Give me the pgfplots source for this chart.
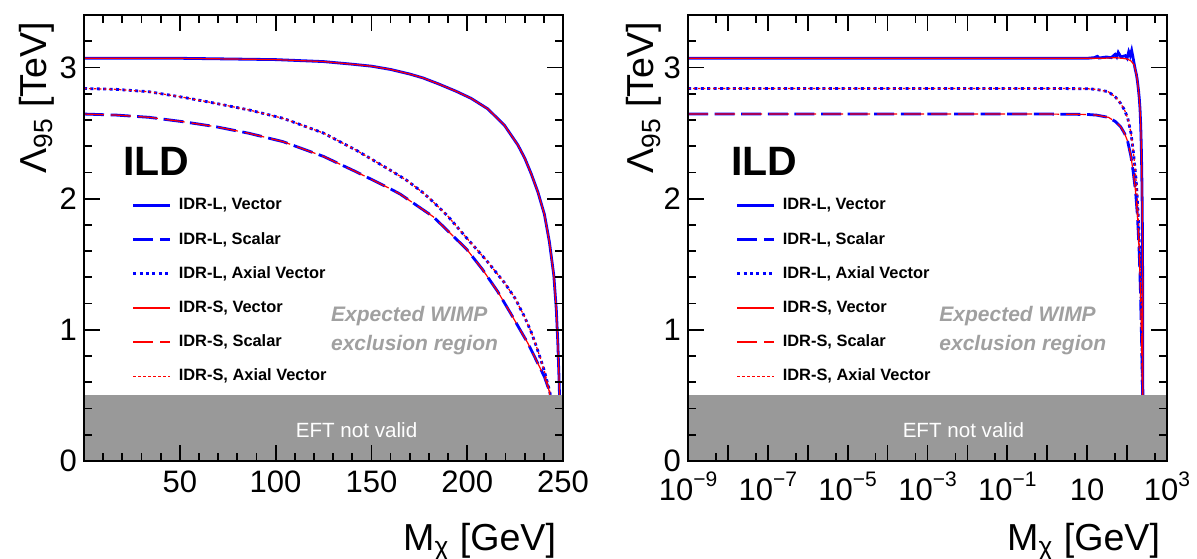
\documentclass[border=0pt]{standalone}
\usepackage{pgfplots}
\pgfplotsset{compat=1.18}
\usepackage{pgfplotstable}
\usepackage{fontspec}
\setmainfont{Liberation Sans}
\definecolor{rblue}{RGB}{0,0,255}
\definecolor{rred}{RGB}{255,0,0}
\definecolor{band}{RGB}{153,153,153}
\definecolor{wimp}{RGB}{160,160,160}
\newcommand{\tp}[1]{10\raisebox{6.9pt}{\fontsize{10.5}{11}\selectfont #1}}

% ---- left panel (linear) data ----
\pgfplotstableread{
x y
0 3.07
25 3.07
50 3.07
75 3.065
100 3.06
125 3.045
140 3.025
150 3.01
160 2.985
170 2.95
177 2.92
185 2.875
194 2.82
202 2.765
210.7 2.685
219.4 2.56
226.4 2.41
230 2.31
233.4 2.19
236.9 2.05
240.3 1.88
242.9 1.67
245.2 1.415
246.5 1.157
247.3 0.90
247.9 0.64
248.2 0.49
248.4 0.3
}\tV
\pgfplotstableread{
x y
0 2.645
17 2.637
34 2.62
52 2.586
69 2.548
86.5 2.497
104 2.434
125 2.322
142 2.205
159.5 2.078
165 2.035
182.3 1.862
199.7 1.615
208 1.46
216 1.29
222.9 1.12
228 0.99
231.6 0.90
236 0.77
240.3 0.642
242.5 0.55
243.8 0.45
244.3 0.35
}\tS
\pgfplotstableread{
x y
0 2.84
17 2.833
34 2.815
52 2.772
69 2.726
86.5 2.675
104 2.612
125 2.50
142 2.37
159.5 2.22
168.4 2.14
177 2.045
182.3 1.975
190 1.865
199.7 1.70
210 1.53
219.4 1.36
225 1.24
229.9 1.10
233.5 0.98
236.9 0.84
240 0.70
242.9 0.54
244.2 0.45
244.8 0.35
}\tA
% ---- right panel (log) data ----
\pgfplotstableread{
x y
1e-9 3.07
1e-3 3.07
1 3.07
10 3.07
15 3.075
18 3.085
20 3.072
30 3.08
40 3.075
50 3.10
55 3.08
60 3.115
70 3.08
90 3.09
100 3.07
110 3.12
120 3.09
130 3.13
140 3.08
150 3.03
160 2.985
170 2.95
177 2.92
185 2.875
194 2.82
202 2.765
210.7 2.685
219.4 2.56
226.4 2.41
230 2.31
233.4 2.19
236.9 2.05
240.3 1.88
242.9 1.67
245.2 1.415
246.5 1.157
247.3 0.90
247.9 0.64
248.2 0.49
248.4 0.3
}\tVrb
\pgfplotstableread{
x y
1e-9 3.07
1e-3 3.07
1 3.07
10 3.07
25 3.07
50 3.075
75 3.07
100 3.065
125 3.05
150 3.02
160 2.985
170 2.95
177 2.92
185 2.875
194 2.82
202 2.765
210.7 2.685
219.4 2.56
226.4 2.41
230 2.31
233.4 2.19
236.9 2.05
240.3 1.88
242.9 1.67
245.2 1.415
246.5 1.157
247.3 0.90
247.9 0.64
248.2 0.49
248.4 0.3
}\tVr
\pgfplotstableread{
x y
1e-9 2.645
1e-3 2.645
1 2.645
10 2.642
17 2.637
34 2.62
52 2.586
69 2.548
86.5 2.497
104 2.434
125 2.322
142 2.205
159.5 2.078
165 2.035
182.3 1.862
199.7 1.615
208 1.46
216 1.29
222.9 1.12
228 0.99
231.6 0.90
236 0.77
240.3 0.642
242.5 0.55
243.8 0.45
244.3 0.35
}\tSr
\pgfplotstableread{
x y
1e-9 2.84
1e-3 2.84
1 2.84
10 2.838
17 2.833
34 2.815
52 2.772
69 2.726
86.5 2.675
104 2.612
125 2.50
142 2.37
159.5 2.22
168.4 2.14
177 2.045
182.3 1.975
190 1.865
199.7 1.70
210 1.53
219.4 1.36
225 1.24
229.9 1.10
233.5 0.98
236.9 0.84
240 0.70
242.9 0.54
244.2 0.45
244.8 0.35
}\tAr

\pgfplotsset{
  rootax/.style={
    scale only axis, width=239.5pt, height=223pt,
    ymin=0, ymax=3.4, ytick={0,1,2,3},
    minor ytick={0.2,0.4,0.6,0.8,1.2,1.4,1.6,1.8,2.2,2.4,2.6,2.8,3.2},
    tick align=inside, xtick pos=both, ytick pos=both,
    major tick length=8pt, minor tick length=4pt,
    every tick/.style={black, line width=0.9pt},
    axis line style={line width=1.2pt},
    tick label style={font=\fontsize{15.5}{18}\selectfont},
    /pgf/number format/assume math mode=true,
    label style={font=\fontsize{18.8}{22}\selectfont},
    xlabel={M\textsubscript{χ} [GeV]}, ylabel={Λ\textsubscript{95} [TeV]},
    x label style={at={(axis description cs:1,0)}, anchor=base east, yshift=-44.5pt},
    axis on top,
    legend cell align=left,
    legend image code/.code={\draw[##1] (0pt,0pt) -- (18.5pt,0pt);},
    legend style={anchor=north west, draw=none, fill=none,
      font=\fontsize{8.2}{9}\selectfont\bfseries, row sep=7.7pt, inner sep=0pt,
      nodes={inner sep=1pt},
      /tikz/every odd column/.style={column sep=2.6pt}},
  },
  bV/.style={rblue, line width=1.4pt},
  bS/.style={rblue, line width=1.4pt, dash pattern=on 10pt off 3.3pt},
  bA/.style={rblue, line width=1.4pt, dash pattern=on 1.5pt off 1.7pt},
  rV/.style={rred, line width=0.6pt},
  rS/.style={rred, line width=0.6pt, dash pattern=on 10pt off 3.5pt},
  rA/.style={rred, line width=0.6pt, dash pattern=on 1.2pt off 1.3pt},
}

\begin{document}
\begin{tikzpicture}
\useasboundingbox (-42pt,-48.5pt) rectangle (556.5pt,230.5pt);
% ================= left panel =================
\begin{axis}[rootax, at={(0pt,0pt)}, anchor=south west,
  xmin=0, xmax=250, xtick={50,100,150,200,250},
  minor xtick={10,20,30,40,60,70,80,90,110,120,130,140,160,170,180,190,210,220,230,240},
  xticklabel style={yshift=-1.5pt},
  y label style={at={(axis description cs:-0.079,1)}, anchor=base east},
  legend style={at={(axis description cs:0.099,0.594)}},
]
\addplot[bV] table {\tV}; \addlegendentry{IDR-L, Vector}
\addplot[bS] table {\tS}; \addlegendentry{IDR-L, Scalar}
\addplot[bA] table {\tA}; \addlegendentry{IDR-L, Axial Vector}
\addplot[rV] table {\tV}; \addlegendentry{IDR-S, Vector}
\addplot[rS] table {\tS}; \addlegendentry{IDR-S, Scalar}
\addplot[rA] table {\tA}; \addlegendentry{IDR-S, Axial Vector}
\addplot[fill=band, draw=none, forget plot] coordinates {(0,0) (250,0) (250,0.5) (0,0.5)} -- cycle;
\node[font=\fontsize{20.5}{22}\selectfont\bfseries, inner sep=0pt] at (rel axis cs:0.151,0.671) {ILD};
\node[wimp, font=\fontsize{10.5}{12}\selectfont\bfseries\itshape, anchor=base west, inner sep=0pt] at (rel axis cs:0.515,0.313) {Expected WIMP};
\node[wimp, font=\fontsize{10.5}{12}\selectfont\bfseries\itshape, anchor=base west, inner sep=0pt] at (rel axis cs:0.515,0.247) {exclusion region};
\node[white, font=\fontsize{10.3}{12}\selectfont, inner sep=0pt] at (rel axis cs:0.569,0.070) {EFT not valid};
\end{axis}
% ================= right panel =================
\begin{axis}[rootax, at={(302pt,0pt)}, anchor=south west,
  xmode=log, xmin=1e-9, xmax=1e3,
  xtick={1e-9,1e-8,1e-7,1e-6,1e-5,1e-4,1e-3,1e-2,1e-1,1,10,100,1000},
  xticklabels={\tp{−9},,\tp{−7},,\tp{−5},,\tp{−3},,\tp{−1},,10,,\tp{3}},
  minor xtick={5e-9,5e-8,5e-7,5e-6,5e-5,5e-4,5e-3,5e-2,5e-1,5,50,500},
  xticklabel style={text height=14.5pt, yshift=-1.5pt},
  y label style={at={(axis description cs:-0.071,1)}, anchor=base east},
  legend style={at={(axis description cs:0.099,0.594)}},
]
\addplot[bV] table {\tVrb}; \addlegendentry{IDR-L, Vector}
\addplot[bS] table {\tSr}; \addlegendentry{IDR-L, Scalar}
\addplot[bA] table {\tAr}; \addlegendentry{IDR-L, Axial Vector}
\addplot[rV] table {\tVr}; \addlegendentry{IDR-S, Vector}
\addplot[rS] table {\tSr}; \addlegendentry{IDR-S, Scalar}
\addplot[rA] table {\tAr}; \addlegendentry{IDR-S, Axial Vector}
\addplot[fill=band, draw=none, forget plot] coordinates {(1e-9,0) (1e3,0) (1e3,0.5) (1e-9,0.5)} -- cycle;
\node[font=\fontsize{20.5}{22}\selectfont\bfseries, inner sep=0pt] at (rel axis cs:0.159,0.671) {ILD};
\node[wimp, font=\fontsize{10.5}{12}\selectfont\bfseries\itshape, anchor=base west, inner sep=0pt] at (rel axis cs:0.524,0.313) {Expected WIMP};
\node[wimp, font=\fontsize{10.5}{12}\selectfont\bfseries\itshape, anchor=base west, inner sep=0pt] at (rel axis cs:0.524,0.247) {exclusion region};
\node[white, font=\fontsize{10.3}{12}\selectfont, inner sep=0pt] at (rel axis cs:0.575,0.070) {EFT not valid};
\end{axis}
\end{tikzpicture}
\end{document}
